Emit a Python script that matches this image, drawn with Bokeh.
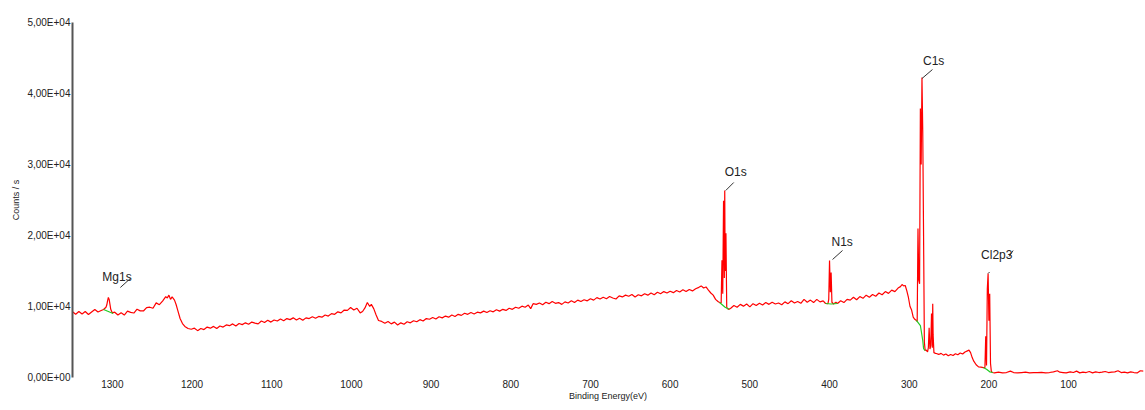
from bokeh.plotting import figure
from bokeh.models import Range1d, FixedTicker, Label
from bokeh.embed import file_html
from bokeh.resources import INLINE

# ---- survey spectrum: binding energy (eV) and intensity (counts / s) ----
be = [
    1350, 1346, 1342, 1338, 1334, 1330, 1326, 1322, 1318, 1314, 1311,
    1308, 1307, 1306, 1305, 1304, 1303, 1302, 1300,
    1297, 1293, 1289, 1285, 1281, 1277, 1273, 1269, 1265, 1261, 1257, 1253, 1249, 1245,
    1241, 1237, 1233, 1231, 1229, 1227, 1225, 1222, 1220, 1218, 1215, 1212, 1209, 1205,
    1201, 1197, 1193, 1189, 1185, 1181, 1177, 1173, 1169, 1165, 1161, 1157, 1153, 1149,
    1145, 1141, 1137, 1133, 1129, 1125, 1121, 1117, 1113, 1109, 1105, 1101,
    1097, 1093, 1089, 1085, 1081, 1077, 1073, 1069, 1065, 1061, 1057, 1053, 1049, 1045,
    1041, 1037, 1033, 1029, 1025, 1021, 1017, 1013, 1009, 1005, 1001,
    997, 993, 989, 986, 983, 980, 977, 975, 972, 969, 966, 962, 958, 954, 950, 946, 942,
    938, 934, 930, 926, 922, 918, 914, 910, 906, 902,
    898, 894, 890, 886, 882, 878, 874, 870, 866, 862, 858, 854, 850, 846, 842, 838, 834,
    830, 826, 822, 818, 814, 810, 806, 802,
    798, 794, 790, 786, 782, 778, 775, 772, 768, 764, 760, 756, 752, 748, 744, 740, 736,
    732, 728, 724, 720, 716, 712, 708, 704,
    700, 696, 692, 688, 684, 680, 676, 672, 668, 664, 660, 656, 652, 648, 644, 640, 636,
    632, 628, 624, 620, 616, 612, 608, 604,
    600, 596, 592, 588, 584, 580, 576, 572, 568, 564, 561, 558, 555, 552, 549, 546, 543, 540, 538,
    536, 535, 534, 533, 532, 531.5, 531, 530, 529, 528, 526, 524, 520,
    516, 512, 508, 504, 500, 496, 492, 488, 484, 480, 476, 472, 468, 464, 460, 456, 452,
    448, 444, 440, 436, 432, 428, 424, 420, 416, 412, 408, 405,
    402, 401, 400, 399, 398, 397, 395, 392, 390, 386, 382, 378, 374, 370, 366, 362, 358,
    354, 350, 346, 342, 338, 334, 330, 326, 322, 318, 314, 311, 309, 307, 305, 303, 301,
    299, 297, 295, 293, 291,
    290, 289, 288, 287, 286, 285, 284, 283, 282, 281, 280, 279,
    277, 276, 275, 274, 273, 272, 271, 270.5, 270, 269, 267,
    266, 263, 260, 257, 254, 251, 248, 245, 242, 239, 236, 233, 230, 227, 225, 223, 221,
    219, 216, 213, 210, 207,
    205, 204, 203, 202, 201, 200, 199, 198, 197, 196,
    193, 188, 183, 178, 173, 169, 164, 159, 154, 149, 144, 139, 134, 129, 124, 119, 114,
    111, 107, 103, 98, 94, 90, 86, 82, 78, 74, 70, 66, 62, 58, 54, 50, 46, 42, 38, 34, 30,
    26, 22, 18, 14, 10, 6,
]
cps = [
    9270, 8910, 9290, 8940, 9290, 8870, 9230, 9580, 9230, 9430, 9580,
    9900, 10200, 10800, 11270, 11000, 10300, 9600, 9100,
    9200, 8800, 9110, 8800, 9340, 9170, 9080, 9620, 9380, 9370, 9850, 9900, 9750, 10510,
    10260, 10760, 11380, 11210, 11600, 11000, 11350, 10900, 10280, 9500, 8310, 7600, 7200, 6900,
    6800, 6950, 6600, 6900, 6750, 7100, 6950, 7200, 6900, 7250, 7100, 7400, 7300, 7550,
    7250, 7600, 7450, 7700, 7500, 7800, 7650, 7550, 7950, 7750, 8050, 7800,
    8100, 7950, 8250, 8000, 8300, 8150, 8400, 8100, 8350, 8050, 8400, 8300, 8550, 8350,
    8600, 8500, 8800, 8650, 9000, 8900, 9250, 9100, 9500, 9450, 9850,
    9500, 9750, 9100, 9300, 9800, 10560, 10000, 10300, 9700, 8800, 8030, 7900, 7650, 7900,
    7550, 7800, 7400, 7700, 7500, 7850, 7700, 8000, 7850, 8150, 7950, 8300, 8200,
    8450, 8250, 8550, 8400, 8650, 8500, 8800, 8600, 8900, 8750, 9050, 8900, 9150, 8950,
    9200, 9100, 9350, 9150, 9400, 9250, 9550, 9350, 9600, 9450, 9750,
    9600, 9900, 9750, 10050, 9900, 10200, 9700, 10400, 10300, 10500, 10250, 10600, 10400,
    10700, 10450, 10550, 10300, 10650, 10500, 10800, 10550, 10900, 10700, 10950, 10800,
    11100, 10900, 11250, 11050, 11300, 11100, 11400, 11200, 11050, 11500, 11350, 11600,
    11450, 11700, 11350, 11650, 11500, 11800, 11600, 11900, 11650, 12000, 11800, 12100, 11900,
    12150, 11950, 12250, 12050, 12350, 12100, 12400, 12200, 12500, 12700, 12900, 12600,
    12750, 12300, 11900, 11600, 11000, 10700, 10560,
    10500, 16500, 11800, 24900, 14000, 26340, 15000, 20300, 9900, 9700, 9600, 9750, 10140,
    9900, 10300, 10050, 10350, 9950, 10400, 10150, 10450, 10200, 10550, 10300, 10600, 10350,
    10500, 10250, 10650, 10400, 10800, 10500, 10700, 10450, 11000, 10600, 10900, 10550,
    11000, 10650, 10800, 10420,
    10400, 11000, 16480, 12000, 14790, 10600, 10350, 10600, 10420, 10800, 10550, 11000,
    10900, 11300, 10950, 11400, 11150, 11600, 11300, 11700, 11450, 11900, 11650, 12100,
    11850, 12300, 12100, 12600, 12800, 13100, 12900, 12960, 12200, 11270, 10000, 9500,
    8500, 8200, 8030,
    7900, 21000, 13700, 13200, 37900, 30000, 42250, 34500, 20000, 5000, 3800, 3900,
    3600, 4200, 7000, 4000, 4500, 9000, 4200, 10400, 6000, 3500, 3400,
    3380, 3250, 3400, 3150, 3300, 3050, 3250, 3100, 3350, 3200, 3450, 3300, 3600, 3750,
    3850, 3500, 2800, 2300, 1800, 1500, 1450, 1400,
    1400, 5800, 1700, 12500, 14650, 8000, 11800, 2000, 900, 700,
    650, 750, 650, 700, 900, 700, 650, 700, 750, 650, 700, 680, 720, 650, 700, 800, 950,
    750, 700, 650, 800, 700, 900, 650, 750, 700, 850, 650, 800, 700, 750, 850, 700, 750,
    800, 950, 700, 750, 650, 800, 700, 650, 950, 900,
]

# ---- fitted backgrounds under the identified peaks ----
bg_mg_be, bg_mg_cps = [1311, 1305, 1299], [9580, 9300, 9010]
bg_o_be, bg_o_cps = [538, 531, 526], [10560, 9900, 9600]
bg_n_be, bg_n_cps = [405, 398, 390], [10420, 10350, 10420]
bg_c_be, bg_c_cps = [291, 286, 283, 282, 280], [8030, 7320, 5210, 4080, 3800]
bg_cl_be, bg_cl_cps = [207, 203, 199, 195], [1400, 1150, 800, 700]

# ---- peak identifications ----
peak_names = ["Mg1s", "O1s", "N1s", "C1s", "Cl2p3"]
peak_be = [1305, 531.5, 400, 284, 201]
peak_cps = [11270, 26340, 16480, 42250, 14650]

# ---- axis ticks and titles ----
x_ticks = [1300, 1200, 1100, 1000, 900, 800, 700, 600, 500, 400, 300, 200, 100]
y_ticks = [0, 10000, 20000, 30000, 40000, 50000]
y_tick_labels = ["0,00E+00", "1,00E+04", "2,00E+04", "3,00E+04", "4,00E+04", "5,00E+04"]
x_title = "Binding Energy(eV)"
y_title = "Counts / s"

# ---- layout ----
W, H = 1145, 410
LEFT, RIGHT, TOP, BOTTOM = 72, 2, 22, 33
X_START, X_END = 1350, 6
Y_MAX = 50000
FONT = "Liberation Sans"
TEXT = "#222222"

p = figure(
    width=W, height=H,
    x_range=Range1d(X_START, X_END), y_range=Range1d(0, Y_MAX),
    output_backend="svg", toolbar_location=None,
    min_border_left=LEFT, min_border_right=RIGHT,
    min_border_top=TOP, min_border_bottom=BOTTOM,
)
p.outline_line_color = None
p.grid.visible = False
p.background_fill_color = "white"
p.border_fill_color = "white"

# spectrum
p.line(be, cps, line_color="#ff0000", line_width=1.2)

# backgrounds
for bx, by in [(bg_mg_be, bg_mg_cps), (bg_o_be, bg_o_cps), (bg_n_be, bg_n_cps),
               (bg_c_be, bg_c_cps), (bg_cl_be, bg_cl_cps)]:
    p.line(bx, by, line_color="#22cc22", line_width=1.2)

# screen-pixel to data-unit conversion for the fixed frame
ev_per_px = (X_START - X_END) / (W - LEFT - RIGHT)
cps_per_px = Y_MAX / (H - TOP - BOTTOM)

# peak labels with short leader lines (offsets in screen pixels)
text_offsets = [(-6, 20), (0, 18), (2, 18), (1, 17), (-7, 18)]
leader_offsets = [
    [(12, 10, 22, 19)],
    [(1, 0, 9, 8)],
    [(3, 1, 13, 10)],
    [(0, -1, 10.5, 8)],
    [(0, 0, 1.5, 1.5), (21, 17, 25, 23)],
]
x0s, y0s, x1s, y1s = [], [], [], []
for name, e, c, (tx, ty), segs in zip(peak_names, peak_be, peak_cps, text_offsets, leader_offsets):
    p.add_layout(Label(
        x=e, y=c, x_offset=tx, y_offset=ty, text=name,
        text_font=FONT, text_font_size="12px", text_color=TEXT,
        text_align="left", text_baseline="alphabetic",
    ))
    for (ax, ay, bx, by) in segs:
        x0s.append(e - ax * ev_per_px)
        y0s.append(c + ay * cps_per_px)
        x1s.append(e - bx * ev_per_px)
        y1s.append(c + by * cps_per_px)
p.segment(x0s, y0s, x1s, y1s, line_color="#333333", line_width=1)

# x axis: tick labels and title, no line
xa = p.xaxis[0]
xa.ticker = FixedTicker(ticks=x_ticks)
xa.axis_line_color = None
xa.major_tick_line_color = None
xa.minor_tick_line_color = None
xa.major_tick_out = 0
xa.major_tick_in = 0
xa.major_label_standoff = 2
xa.major_label_text_font = FONT
xa.major_label_text_font_size = "10px"
xa.major_label_text_color = TEXT
xa.axis_label = x_title
xa.axis_label_text_font = FONT
xa.axis_label_text_font_size = "9px"
xa.axis_label_text_font_style = "normal"
xa.axis_label_text_color = TEXT
xa.axis_label_standoff = 0

# y axis
ya = p.yaxis[0]
ya.ticker = FixedTicker(ticks=y_ticks)
ya.major_label_overrides = dict(zip(y_ticks, y_tick_labels))
ya.axis_line_color = "#555555"
ya.axis_line_width = 2
ya.major_tick_line_color = None
ya.minor_tick_line_color = None
ya.major_tick_out = 0
ya.major_tick_in = 0
ya.major_label_standoff = 2
ya.major_label_text_font = FONT
ya.major_label_text_font_size = "10px"
ya.major_label_text_color = TEXT
ya.axis_label = y_title
ya.axis_label_text_font = FONT
ya.axis_label_text_font_size = "9px"
ya.axis_label_text_font_style = "normal"
ya.axis_label_text_color = TEXT
ya.axis_label_standoff = 3

open("out.html", "w").write(file_html(p, INLINE))
